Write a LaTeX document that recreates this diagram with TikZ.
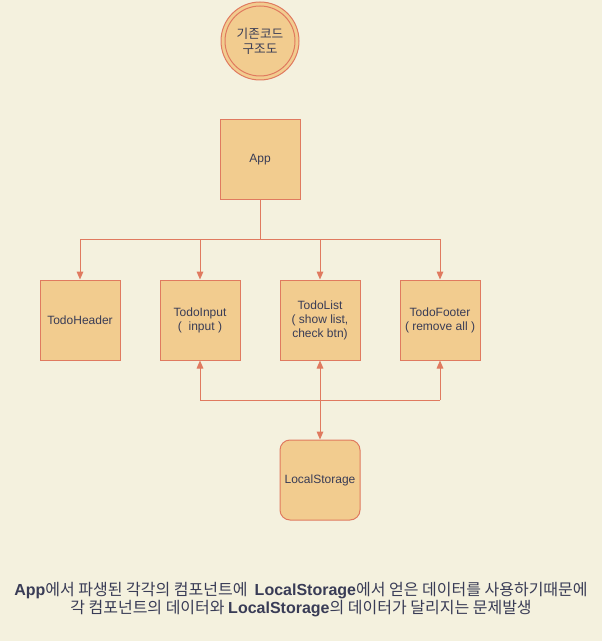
\documentclass[tikz,border=0pt]{standalone}
\usepackage{fontspec}
\setmainfont{Liberation Sans}
\newfontfamily\kr{Noto Sans CJK KR}
\newfontfamily\lat{Liberation Sans}
\usetikzlibrary{arrows.meta}
\definecolor{bg}{HTML}{F4F1DE}
\definecolor{fillc}{HTML}{F2CC8F}
\definecolor{strokec}{HTML}{E07A5F}
\definecolor{txt}{HTML}{393C56}
\newcommand{\lb}[1]{{\lat\bfseries #1}}
\tikzset{
  box/.style={draw=strokec, fill=fillc, minimum width=60pt, minimum height=60pt, inner sep=0pt, text=txt, font=\fontsize{9}{10.5}\selectfont, align=center, line width=0.75pt},
  conn/.style={draw=strokec, line width=0.75pt, -{Triangle[length=6pt,width=5pt]}},
  biconn/.style={draw=strokec, line width=0.75pt, {Triangle[length=6pt,width=5pt]}-{Triangle[length=6pt,width=5pt]}},
  plain/.style={draw=strokec, line width=0.75pt}
}
\begin{document}
\begin{tikzpicture}[x=0.75pt,y=-0.75pt]
\useasboundingbox[fill=bg] (0,0) rectangle (602,641);
% title circle
\node[draw=strokec, fill=fillc, circle, minimum size=58.5pt, line width=0.75pt] (c) at (260,41) {};
\node[draw=strokec, circle, minimum size=52.5pt, line width=0.75pt, text=txt, align=center, font=\kr\fontsize{9.5}{11}\selectfont] (ci) at (260,41) {기존코드\\구조도};
% boxes
\node[box] (app) at (260,160) {App};
\node[box] (hdr) at (80,320) {TodoHeader};
\node[box] (inp) at (200,320) {TodoInput\\(\ \ input )};
\node[box] (lst) at (320,320) {TodoList\\( show list,\\check btn)};
\node[box] (ftr) at (440,320) {TodoFooter\\( remove all )};
\node[box, rounded corners=7.5pt] (ls) at (320,480) {LocalStorage};
% top tree
\coordinate (j) at (260,240);
\draw[plain] (app.south) -- (j);
\draw[conn] (j) -| (hdr.north);
\draw[conn] (j) -| (inp.north);
\draw[conn] (j) -| (lst.north);
\draw[conn] (j) -| (ftr.north);
% bottom
\coordinate (b1) at (200,400);
\coordinate (b2) at (440,400);
\draw[conn] (b1) -- (inp.south);
\draw[plain] (b1) -- (b2);
\draw[conn] (b2) -- (ftr.south);
\draw[biconn] (lst.south) -- (ls.north);
% caption
\node[text=txt, align=center, font=\kr\fontsize{12}{13.5}\selectfont] (cap) at (301,600) {\lb{App}에서 파생된 각각의 컴포넌트에\ \ \lb{LocalStorage}에서 얻은 데이터를 사용하기때문에\\각 컴포넌트의 데이터와 \lb{LocalStorage}의 데이터가 달리지는 문제발생};
\end{tikzpicture}
\end{document}
